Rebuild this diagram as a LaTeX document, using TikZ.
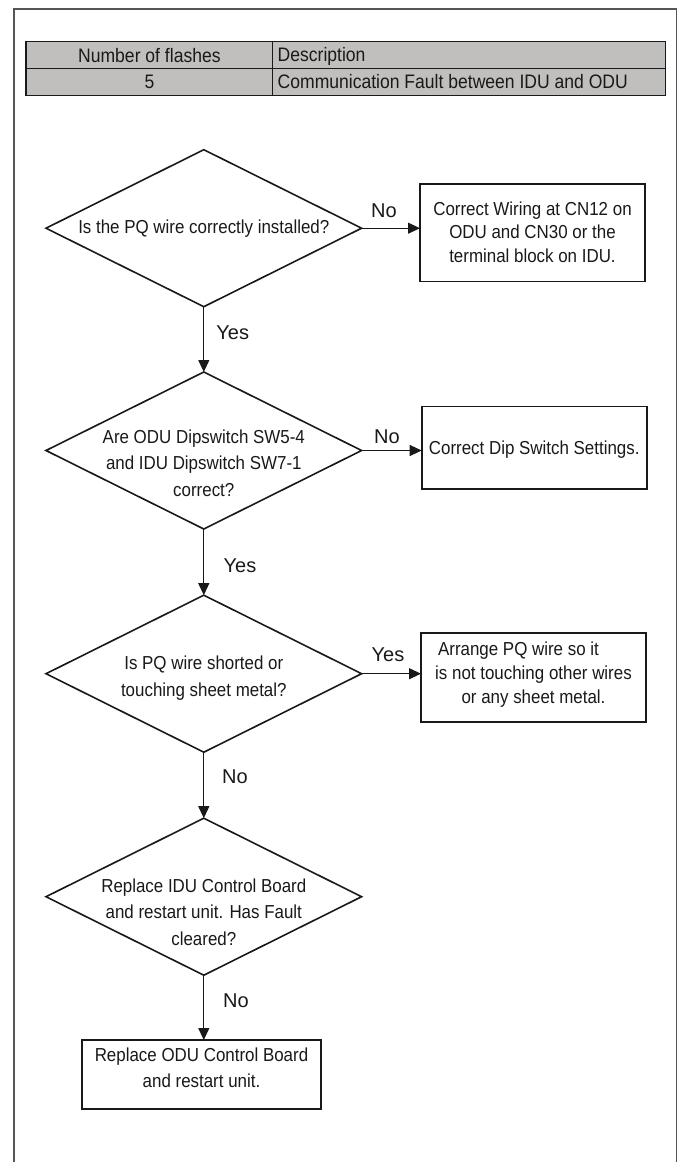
\documentclass[tikz,border=0pt]{standalone}
\usepackage{fontspec}
\setmainfont[FakeStretch=0.9]{Liberation Sans}
\newfontfamily\lblfont{Liberation Sans}
\usetikzlibrary{shapes.geometric,arrows.meta}
\definecolor{tabfill}{RGB}{192,191,189}
\definecolor{framecol}{RGB}{85,85,85}
\definecolor{ink}{RGB}{25,25,25}
\tikzset{
  dia/.style={diamond,draw=ink,line width=1.6pt,minimum width=315.6pt,minimum height=157pt,inner sep=0pt,outer sep=0pt},
  stepbox/.style={rectangle,draw=ink,line width=1.6pt,inner sep=0pt,outer sep=0pt},
  txt/.style={text=ink,align=center,inner sep=0pt,font=\fontsize{18.8}{26.5}\selectfont},
  lbl/.style={text=ink,inner sep=0pt,font=\lblfont\fontsize{20}{24}\selectfont},
  tabtxt/.style={text=ink,inner sep=0pt,font=\fontsize{19.5}{24}\selectfont},
  conn/.style={draw=ink,line width=1.1pt,-{Triangle[length=12pt,width=11pt]}}
}
\begin{document}
\begin{tikzpicture}[x=1pt,y=-1pt]
\useasboundingbox (0,0) rectangle (679,1162);
% outer frame
\coordinate (fbl) at (14,1162);
\coordinate (ftl) at (14,9);
\coordinate (ftr) at (676.5,9);
\coordinate (fbr) at (676.5,1162);
\draw[framecol,line width=1.5pt] (fbl) -- (ftl) -- (ftr) -- (fbr);
% table
\coordinate (t1) at (26,41.3);
\coordinate (t2) at (665.3,95.7);
\fill[tabfill] (t1) rectangle (t2);
\draw[ink,line width=1.3pt] (t1) rectangle (t2);
\coordinate (tm1) at (26,68.7);
\coordinate (tm2) at (665.3,68.7);
\draw[ink,line width=1.3pt] (tm1) -- (tm2);
\coordinate (tc1) at (272.7,41.3);
\coordinate (tc2) at (272.7,95.7);
\draw[ink,line width=1.3pt] (tc1) -- (tc2);
\node[tabtxt] (h1) at (149.4,56) {Number of flashes};
\node[tabtxt,anchor=west] (h2) at (277.5,56) {Description};
\node[tabtxt] (r1) at (149.4,82) {5};
\node[tabtxt,anchor=west] (r2) at (277.5,82) {Communication Fault between IDU and ODU};
% diamonds
\node[dia] (d1) at (203.8,228.2) {};
\node[dia] (d2) at (203.8,450.5) {};
\node[dia] (d3) at (203.8,673.7) {};
\node[dia] (d4) at (203.8,896.7) {};
\node[txt] (d1t) at (203.8,229) {Is the PQ wire correctly installed?};
\node[txt] (d2t) at (203.8,463) {Are ODU Dipswitch SW5-4\\and IDU Dipswitch SW7-1\\correct?};
\node[txt] (d3t) at (203.8,678) {Is PQ wire shorted or\\touching sheet metal?};
\node[txt] (d4t) at (203.8,912) {Replace IDU Control Board\\and restart unit. Has Fault\\cleared?};
% boxes
\node[stepbox,minimum width=225pt,minimum height=97.7pt] (b1) at (532.5,232.8) {};
\node[stepbox,minimum width=225pt,minimum height=82.3pt] (b2) at (534.2,447.8) {};
\node[stepbox,minimum width=225pt,minimum height=89pt] (b3) at (533.5,677.2) {};
\node[stepbox,minimum width=239pt,minimum height=69pt] (b4) at (201.5,1074.5) {};
\node[txt,font=\fontsize{18.8}{23.4}\selectfont] (b1t) at (532.5,232) {Correct Wiring at CN12 on\\ODU and CN30 or the\\terminal block on IDU.};
\node[txt] (b2t) at (534.2,450) {Correct Dip Switch Settings.};
\node[txt,font=\fontsize{18.8}{24}\selectfont] (b3t) at (533.5,674.5) {Arrange PQ wire so it\hspace*{30pt}\\is not touching other wires\\or any sheet metal.};
\node[txt,font=\fontsize{18.8}{26}\selectfont] (b4t) at (201.5,1067.5) {Replace ODU Control Board\\and restart unit.};
% connectors
\draw[conn] (d1.east) -- (d1.east -| b1.west);
\draw[conn] (d2.east) -- (d2.east -| b2.west);
\draw[conn] (d3.east) -- (d3.east -| b3.west);
\draw[conn] (d1.south) -- (d2.north);
\draw[conn] (d2.south) -- (d3.north);
\draw[conn] (d3.south) -- (d4.north);
\draw[conn] (d4.south) -- (d4.south |- b4.north);
% labels
\node[lbl] (l1) at (384,211) {No};
\node[lbl] (l2) at (232.7,333) {Yes};
\node[lbl] (l3) at (387,437) {No};
\node[lbl] (l4) at (240,566) {Yes};
\node[lbl] (l5) at (388,655) {Yes};
\node[lbl] (l6) at (235,777) {No};
\node[lbl] (l7) at (236,1001) {No};
\end{tikzpicture}
\end{document}
